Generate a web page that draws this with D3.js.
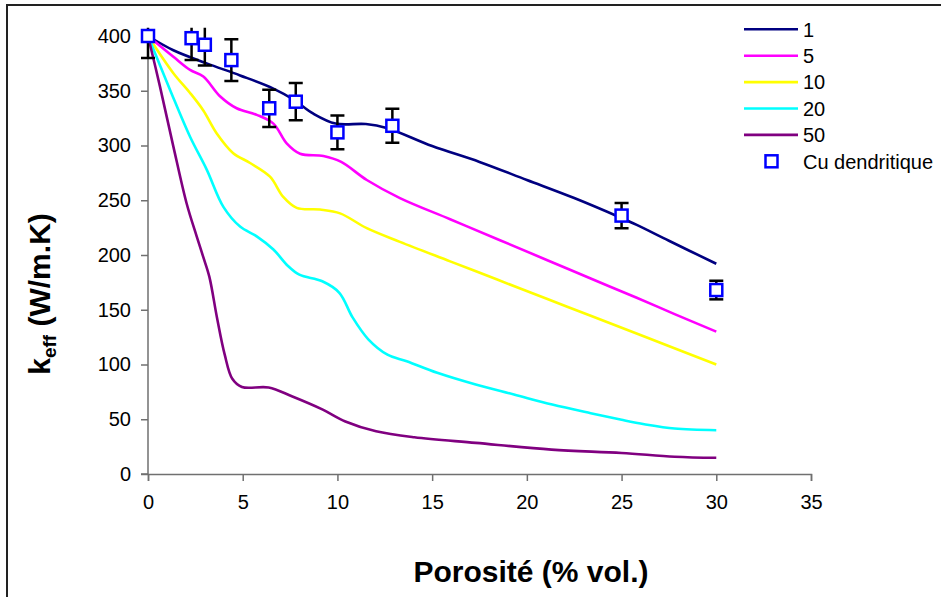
<!DOCTYPE html>
<html><head><meta charset="utf-8">
<script src="https://cdn.jsdelivr.net/npm/d3@7"></script>
<style>body{margin:0;background:#fff}svg{display:block}text{font-family:"Liberation Sans",Arial,sans-serif}</style>
</head><body><svg id="c" width="941" height="597"></svg>
<script>
const seriesNames = ["1","5","10","20","50"];
const seriesColors = ["#000080","#FF00FF","#FFFF00","#00FFFF","#800080"];
const s1 = [[0,400],[1.34,387],[3.1,375],[4.86,364],[6.62,352],[7.67,342],[8.73,329],[9.9,320],[11.5,319.6],[12.6,316],[15,299.5],[17.5,285],[20,268.5],[22.5,252],[24.9,234.5],[25.8,227.5],[27.5,213],[30,192]];
const s5 = [[0,400],[1.34,381],[2.22,369],[2.92,363],[3.8,345],[4.68,334],[5.74,328],[6.62,320],[7.32,302],[8.03,292.5],[9.26,290.4],[10.2,285],[11.55,268.5],[13.3,252],[15.95,232.7],[18.58,213.5],[21.05,195.5],[23.37,178.5],[25.8,161],[27.8,146],[30,130]];
const s10 = [[0,400],[1.34,366],[2.22,348],[2.92,332],[3.63,311],[4.5,293],[5.39,284],[6.44,271.5],[7.14,253],[7.85,243],[9.08,241.5],[10.14,238],[11.55,224.5],[13.3,212],[15.95,194.2],[18.4,177.8],[21.05,160],[23.37,144.5],[26.2,125.5],[30,100]];
const s20 = [[0,400],[1.16,351],[2.22,308],[3.1,278],[3.98,244],[4.86,226],[5.74,217],[6.62,205],[7.39,190],[7.99,182],[9.2,176],[10.1,165.5],[10.8,143],[11.63,123],[12.64,109],[13.66,103],[15.27,92.4],[17.3,81.7],[19.32,72.6],[21.34,63.4],[23.37,55.5],[25,49.5],[26.2,45.5],[27.8,41.5],[30,40]];
const s50 = [[0,400],[0.63,354],[1.34,299],[2.04,247],[2.57,217],[2.92,198],[3.24,180],[3.64,143],[4.05,109],[4.45,87],[4.96,79.5],[6.37,79],[7.59,71],[9.2,59],[10.42,48],[12.04,39],[14.06,33.5],[17.3,28.4],[21.3,22.3],[25,19.2],[27.8,15.8],[30,14.8]];
const cuName = "Cu dendritique";
const cuX = [0, 2.3, 3, 4.4, 6.4, 7.8, 10, 12.9, 25, 30];
const cuY = [400, 398, 392, 378, 334, 340, 312, 318, 236, 168];
const cuErr = [20, 20, 19, 19, 17, 17, 15.5, 15.5, 11.5, 8.5];
const xTicks = [0,5,10,15,20,25,30,35];
const yTicks = [0,50,100,150,200,250,300,350,400];
const xTitle = "Porosité (% vol.)";

const allSeries = [s1,s5,s10,s20,s50];
const svg = d3.select("#c");
const x = d3.scaleLinear().domain([0,35]).range([148,811]);
const y = d3.scaleLinear().domain([0,400]).range([474,36]);

// chart border
svg.append("rect").attr("x",7).attr("y",5).attr("width",1100).attr("height",800)
  .attr("fill","none").attr("stroke","#222").attr("stroke-width",2);

// axes
const xa = svg.append("g").attr("transform","translate(0,474)")
  .call(d3.axisBottom(x).tickValues(xTicks).tickSize(7).tickPadding(14).tickFormat(d3.format("d")));
const ya = svg.append("g").attr("transform","translate(148,0)")
  .call(d3.axisLeft(y).tickValues(yTicks).tickSize(7).tickPadding(10).tickFormat(d3.format("d")));
[xa,ya].forEach(a=>{
  a.select(".domain").attr("stroke","#707070").attr("stroke-width",1.5);
  a.selectAll(".tick line").attr("stroke","#707070").attr("stroke-width",1.5);
  a.selectAll("text").attr("font-size",20).attr("fill","#000").attr("font-family","Liberation Sans, Arial, sans-serif");
});
ya.selectAll(".domain").attr("d","M-7,"+y(400)+"H0V"+y(0)+"H-7");

// curves
const line = d3.line().x(d=>x(d[0])).y(d=>y(d[1])).curve(d3.curveCatmullRom.alpha(0.5));
allSeries.forEach((s,i)=>{
  svg.append("path").attr("d",line(s)).attr("fill","none")
    .attr("stroke",seriesColors[i]).attr("stroke-width",2.6).attr("stroke-linejoin","round");
});

// error bars (clipped at plot top)
svg.append("clipPath").attr("id","clipE").append("rect")
  .attr("x",0).attr("y",y(407.5)).attr("width",941).attr("height",600);
const eg = svg.append("g").attr("clip-path","url(#clipE)");
cuX.forEach((cx,i)=>{
  const px = x(cx), top = y(cuY[i]+cuErr[i]), bot = y(cuY[i]-cuErr[i]);
  eg.append("line").attr("x1",px).attr("x2",px).attr("y1",top).attr("y2",bot).attr("stroke","#000").attr("stroke-width",2.5);
  [top,bot].forEach(v=>eg.append("line").attr("x1",px-7).attr("x2",px+7).attr("y1",v).attr("y2",v).attr("stroke","#000").attr("stroke-width",2.5));
});
// markers
cuX.forEach((cx,i)=>{
  svg.append("rect").attr("x",x(cx)-6).attr("y",y(cuY[i])-6).attr("width",12).attr("height",12)
    .attr("fill","#fff").attr("stroke","#0000FF").attr("stroke-width",2.5);
});

// legend
const lg = svg.append("g");
seriesNames.forEach((n,i)=>{
  const ly = 29.3 + i*26.4;
  lg.append("line").attr("x1",744).attr("x2",798).attr("y1",ly).attr("y2",ly)
    .attr("stroke",seriesColors[i]).attr("stroke-width",2.6);
  lg.append("text").attr("x",803).attr("y",ly+7.3).attr("font-size",20).text(n);
});
const my = 29.3 + 5*26.4;
lg.append("rect").attr("x",771.5-6).attr("y",my-6).attr("width",12).attr("height",12)
  .attr("fill","#fff").attr("stroke","#0000FF").attr("stroke-width",2.5);
lg.append("text").attr("x",803).attr("y",my+7.3).attr("font-size",20).text(cuName);

// axis titles
svg.append("text").attr("x",531).attr("y",582).attr("text-anchor","middle")
  .attr("font-size",30).attr("font-weight","bold").text(xTitle);
const yt = svg.append("text").attr("transform","translate(50,294) rotate(-90)")
  .attr("text-anchor","middle").attr("font-size",30).attr("font-weight","bold");
yt.append("tspan").text("k");
yt.append("tspan").attr("font-size",19).attr("dy",6).text("eff");
yt.append("tspan").attr("dy",-6).text(" (W/m.K)");
</script></body></html>
